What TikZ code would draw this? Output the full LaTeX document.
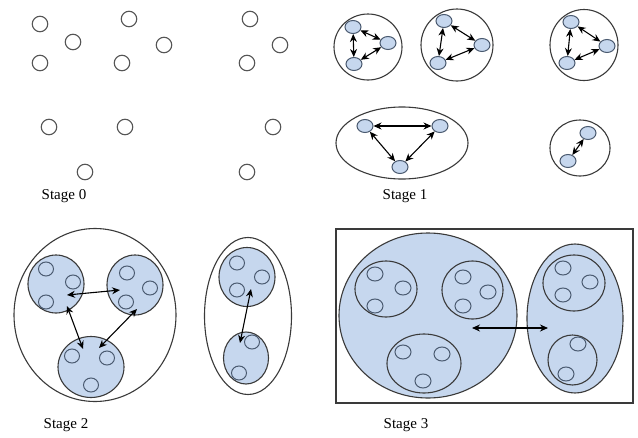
\documentclass[tikz,border=0pt]{standalone}
\usepackage{fontspec}
\setmainfont{Liberation Serif}
\usetikzlibrary{shapes.geometric,arrows.meta}
\definecolor{paleblue}{HTML}{C6D7EE}
\definecolor{rimgray}{HTML}{3A3A3A}
\definecolor{dotrim}{HTML}{4A5A70}
\definecolor{lonerim}{HTML}{555555}
\tikzset{
  lone/.style={circle,draw=lonerim,line width=1.1pt,minimum size=15.5pt,inner sep=0pt},
  member/.style={ellipse,draw=dotrim,fill=paleblue,line width=1pt,minimum width=16pt,minimum height=13pt,inner sep=0pt},
  ring/.style={ellipse,draw=rimgray,line width=1.1pt,inner sep=0pt},
  bluering/.style={ellipse,draw=rimgray,fill=paleblue,line width=1.1pt,inner sep=0pt},
  pebble/.style={ellipse,draw=dotrim,line width=1pt,minimum width=15pt,minimum height=14pt,inner sep=0pt},
  link/.style={{Stealth[length=8pt,width=7pt]}-{Stealth[length=8pt,width=7pt]},line width=1.1pt,black},
  caption/.style={font=\fontsize{15pt}{17pt}\selectfont,inner sep=0pt}
}
\begin{document}
\begin{tikzpicture}[x=1pt,y=-1pt]
\fill[white] (0,0) rectangle (638,437);
\useasboundingbox (0,0) rectangle (638,437);

% ---- Stage 0: isolated individuals ----
\node[lone] (s0a) at (40,24) {};
\node[lone] (s0b) at (73,42) {};
\node[lone] (s0c) at (40,63) {};
\node[lone] (s0d) at (129,19) {};
\node[lone] (s0e) at (164,45) {};
\node[lone] (s0f) at (122,63) {};
\node[lone] (s0g) at (250,19) {};
\node[lone] (s0h) at (280,45) {};
\node[lone] (s0i) at (247,63) {};
\node[lone] (s0j) at (49,127) {};
\node[lone] (s0k) at (125,127) {};
\node[lone] (s0l) at (273,127) {};
\node[lone] (s0m) at (85,172) {};
\node[lone] (s0n) at (247,172) {};
\node[caption] (cap0) at (64,196) {Stage 0};

% ---- Stage 1: first groups ----
\node[ring,minimum width=68pt,minimum height=66pt] (g1a) at (368,47) {};
\node[member] (a1) at (353,27) {};
\node[member] (a2) at (388,43) {};
\node[member] (a3) at (354,64) {};
\draw[link] (a1) -- (a2);
\draw[link] (a2) -- (a3);
\draw[link] (a1) -- (a3);

\node[ring,minimum width=72pt,minimum height=72pt] (g1b) at (457,45) {};
\node[member] (b1) at (444,21) {};
\node[member] (b2) at (482,45) {};
\node[member] (b3) at (438,63) {};
\draw[link] (b1) -- (b2);
\draw[link] (b2) -- (b3);
\draw[link] (b1) -- (b3);

\node[ring,minimum width=68pt,minimum height=71pt] (g1c) at (584,45) {};
\node[member] (c1) at (571,22) {};
\node[member] (c2) at (607,46) {};
\node[member] (c3) at (567,63) {};
\draw[link] (c1) -- (c2);
\draw[link] (c2) -- (c3);
\draw[link] (c1) -- (c3);

\node[ring,minimum width=132pt,minimum height=72pt] (g1d) at (402,143) {};
\node[member] (d1) at (365,126) {};
\node[member] (d2) at (440,126) {};
\node[member] (d3) at (400,167) {};
\draw[link] (d1) -- (d2);
\draw[link] (d2) -- (d3);
\draw[link] (d1) -- (d3);

\node[ring,minimum width=60pt,minimum height=56pt] (g1e) at (580,148) {};
\node[member] (e1) at (588,133) {};
\node[member] (e2) at (568,161) {};
\draw[link] (e1) -- (e2);

\node[caption] (cap1) at (405,196) {Stage 1};

% ---- Stage 2: groups of groups ----
\node[ring,minimum width=162pt,minimum height=173pt] (g2a) at (95,315) {};
\node[bluering,minimum width=56pt,minimum height=58pt] (t1) at (56,284) {};
\node[pebble] (t1a) at (46,269) {};
\node[pebble] (t1b) at (73,282) {};
\node[pebble] (t1c) at (46,302) {};
\node[bluering,minimum width=56pt,minimum height=60pt] (t2) at (135,285) {};
\node[pebble] (t2a) at (127,273) {};
\node[pebble] (t2b) at (150,288) {};
\node[pebble] (t2c) at (126,302) {};
\node[bluering,minimum width=66pt,minimum height=61pt] (t3) at (91,367) {};
\node[pebble] (t3a) at (72,356) {};
\node[pebble] (t3b) at (107,358) {};
\node[pebble] (t3c) at (91,385) {};
\coordinate (p12) at (67,295);
\coordinate (p21) at (120,290);
\coordinate (p13) at (67,306);
\coordinate (p31) at (83,349);
\coordinate (p23) at (137,309);
\coordinate (p32) at (99,348);
\draw[link] (p12) -- (p21);
\draw[link] (p13) -- (p31);
\draw[link] (p23) -- (p32);

\node[ring,minimum width=87pt,minimum height=157pt] (g2b) at (248,316) {};
\node[bluering,minimum width=56pt,minimum height=59pt] (u1) at (247,277) {};
\node[pebble] (u1a) at (237,263) {};
\node[pebble] (u1b) at (262,277) {};
\node[pebble] (u1c) at (237,290) {};
\node[bluering,minimum width=45pt,minimum height=52pt] (u2) at (246,358) {};
\node[pebble] (u2a) at (252,342) {};
\node[pebble] (u2b) at (239,373) {};
\coordinate (q12) at (251,289);
\coordinate (q21) at (240,343);
\draw[link] (q12) -- (q21);

\node[caption] (cap2) at (66,425) {Stage 2};

% ---- Stage 3: whole population ----
\node[draw=rimgray,line width=1.1pt,minimum width=297pt,minimum height=174pt,inner sep=0pt] (frame) at (484.5,316) {};
\node[bluering,minimum width=178pt,minimum height=165pt] (w1) at (428,315.5) {};
\node[ring,minimum width=62pt,minimum height=56pt] (w1a) at (386,289) {};
\node[pebble,minimum width=16pt] (w1a1) at (375,274) {};
\node[pebble,minimum width=16pt] (w1a2) at (403,288) {};
\node[pebble,minimum width=16pt] (w1a3) at (375,306) {};
\node[ring,minimum width=61pt,minimum height=58pt] (w1b) at (472.5,290) {};
\node[pebble,minimum width=16pt] (w1b1) at (463,277) {};
\node[pebble,minimum width=16pt] (w1b2) at (488,292) {};
\node[pebble,minimum width=16pt] (w1b3) at (463,306) {};
\node[ring,minimum width=74pt,minimum height=59pt] (w1c) at (424,363.5) {};
\node[pebble,minimum width=16pt] (w1c1) at (403,352) {};
\node[pebble,minimum width=16pt] (w1c2) at (442,354) {};
\node[pebble,minimum width=16pt] (w1c3) at (423,381) {};

\node[bluering,minimum width=96pt,minimum height=149pt] (w2) at (575,318.5) {};
\node[ring,minimum width=62pt,minimum height=56pt] (w2a) at (574,283) {};
\node[pebble,minimum width=16pt] (w2a1) at (563,268) {};
\node[pebble,minimum width=16pt] (w2a2) at (590,282) {};
\node[pebble,minimum width=16pt] (w2a3) at (563,295) {};
\node[ring,minimum width=49pt,minimum height=50pt] (w2b) at (572.5,360) {};
\node[pebble,minimum width=16pt] (w2b1) at (578,344) {};
\node[pebble,minimum width=16pt] (w2b2) at (566,374) {};
\coordinate (r12) at (472,328);
\coordinate (r21) at (548,328);
\draw[link] (r12) -- (r21);

\node[caption] (cap3) at (406,425) {Stage 3};
\end{tikzpicture}
\end{document}
